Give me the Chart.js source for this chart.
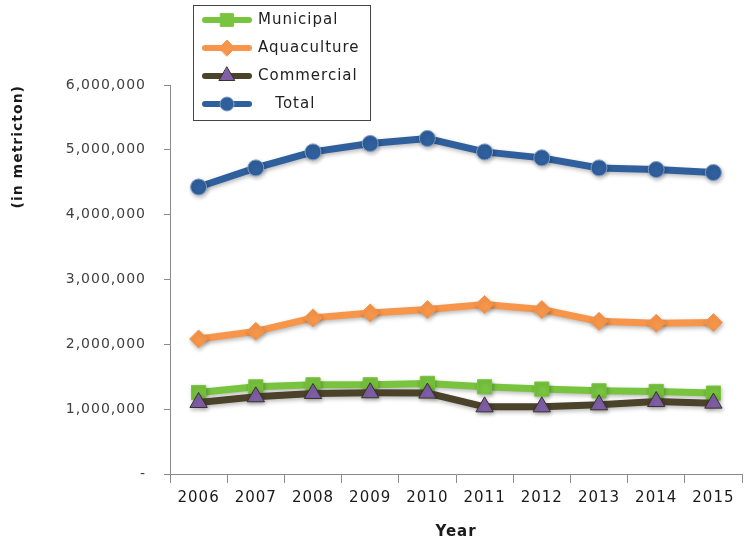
<!DOCTYPE html>
<html>
<head>
<meta charset="utf-8">
<script src="https://cdn.jsdelivr.net/npm/chart.js@4/dist/chart.umd.min.js"></script>
<style>
  html, body { margin:0; padding:0; background:#fff; }
  #wrap { width:753px; height:546px; position:relative; }
</style>
</head>
<body>
<div id="wrap"><canvas id="c" width="753" height="546"></canvas></div>
<script>
// ── data (metric tons) ──
const years       = ['2006','2007','2008','2009','2010','2011','2012','2013','2014','2015'];
const municipal   = [1257000,1345000,1376000,1376000,1397000,1345000,1310000,1283000,1273000,1248000];
const aquaculture = [2083000,2200000,2408000,2485000,2536000,2613000,2536000,2355000,2324000,2335000];
const commercial  = [1103000,1191000,1242000,1253000,1248000,1036000,1036000,1067000,1118000,1093000];
const total       = [4427000,4721000,4968000,5098000,5175000,4968000,4876000,4721000,4696000,4650000];
const yTicks      = [0,1000000,2000000,3000000,4000000,5000000,6000000];

const FONT = "'DejaVu Sans', sans-serif";
const SPACING = '1px';

(function() {
  // wider letter spacing, like the stretched original
  const spacing = {
    id: 'spacing',
    beforeLayout(chart) { chart.ctx.letterSpacing = SPACING; },
    beforeDraw(chart)   { chart.ctx.letterSpacing = SPACING; }
  };

  // soft shadow under the lines / markers
  const shadow = {
    id: 'shadow',
    beforeDatasetsDraw(chart) {
      const c = chart.ctx;
      c.save();
      c.shadowColor = 'rgba(0,0,0,0.28)';
      c.shadowBlur = 4;
      c.shadowOffsetX = 1;
      c.shadowOffsetY = 2;
    },
    afterDatasetsDraw(chart) { chart.ctx.restore(); }
  };

  // boxed legend in the top left, line + marker per series
  const boxLegend = {
    id: 'boxLegend',
    afterDraw(chart) {
      const c = chart.ctx;
      c.save();
      c.letterSpacing = SPACING;
      c.strokeStyle = '#444';
      c.lineWidth = 1;
      c.strokeRect(193.5, 5.5, 177, 115);
      chart.data.datasets.forEach((ds, i) => {
        const y = 20 + i * 28;
        c.strokeStyle = ds.borderColor;
        c.lineWidth = 6;
        c.lineCap = 'round';
        c.beginPath(); c.moveTo(205, y); c.lineTo(249, y); c.stroke();
        c.fillStyle = ds.pointBackgroundColor;
        c.strokeStyle = ds.pointBorderColor;
        c.lineWidth = 1;
        Chart.helpers.drawPoint(c, { pointStyle: ds.pointStyle, radius: ds.pointRadius - 1, rotation: 0, borderWidth: 1 }, 227, y);
        c.fillStyle = '#222';
        c.font = '15px ' + FONT;
        c.textBaseline = 'middle';
        c.fillText(ds.legendText, 258, y);
      });
      c.restore();
    }
  };

  new Chart(document.getElementById('c'), {
    type: 'line',
    data: {
      labels: years,
      datasets: [
        { label:'Municipal', legendText:'Municipal', data: municipal, order:1,
          borderColor:'#78c43e', backgroundColor:'#78c43e', borderWidth:7,
          pointStyle:'rect', pointRadius:10, pointBackgroundColor:'#78c43e', pointBorderColor:'#78c43e', pointBorderWidth:1 },
        { label:'Aquaculture', legendText:'Aquaculture', data: aquaculture, order:2,
          borderColor:'#f7964a', backgroundColor:'#f7964a', borderWidth:7,
          pointStyle:'rectRot', pointRadius:9, pointBackgroundColor:'#f7964a', pointBorderColor:'#f7964a', pointBorderWidth:1 },
        { label:'Commercial', legendText:'Commercial', data: commercial, order:0,
          borderColor:'#4a4229', backgroundColor:'#4a4229', borderWidth:7,
          pointStyle:'triangle', pointRadius:10, pointBackgroundColor:'#7f5fa8', pointBorderColor:'#3b3325', pointBorderWidth:1 },
        { label:'Total', legendText:'   Total', data: total, order:3,
          borderColor:'#2f5f9c', backgroundColor:'#2f5f9c', borderWidth:7,
          pointStyle:'circle', pointRadius:8, pointBackgroundColor:'#2f5f9c', pointBorderColor:'#7f9cc6', pointBorderWidth:1 },
      ]
    },
    options: {
      responsive:false, animation:false,
      layout:{ padding:{ top:85, right:2, left:0, bottom:0 } },
      plugins:{ legend:{ display:false }, tooltip:{ enabled:false } },
      elements:{ line:{ tension:0 } },
      scales:{
        x:{
          offset:true,
          afterFit: s => { s.height = 72; },
          grid:{ offset:true, drawOnChartArea:false, drawTicks:true, tickLength:9, color:'#8a8a8a' },
          border:{ color:'#8a8a8a', width:1 },
          ticks:{ color:'#1a1a1a', font:{ family:FONT, size:15 }, padding:6 },
          title:{ display:true, text:'Year', color:'#1a1a1a', font:{ family:FONT, size:15, weight:'bold' }, padding:{ top:0, bottom:5 } }
        },
        y:{
          min:0, max:6000000,
          afterFit: s => { s.width = 170; },
          afterBuildTicks: s => { s.ticks = yTicks.map(v => ({ value:v })); },
          grid:{ drawOnChartArea:false, drawTicks:true, tickLength:6, color:'#8a8a8a' },
          border:{ color:'#8a8a8a', width:1 },
          ticks:{ color:'#404040', font:{ family:FONT, size:14 }, padding:18,
            callback: v => v === 0 ? '-' : v.toLocaleString('en-US') },
          title:{ display:true, text:'(in metricton)', align:'end', color:'#1a1a1a', font:{ family:FONT, size:14, weight:'bold' }, padding:{ top:10, bottom:0 } }
        }
      }
    },
    plugins:[spacing, shadow, boxLegend]
  });
})();
</script>
</body>
</html>
